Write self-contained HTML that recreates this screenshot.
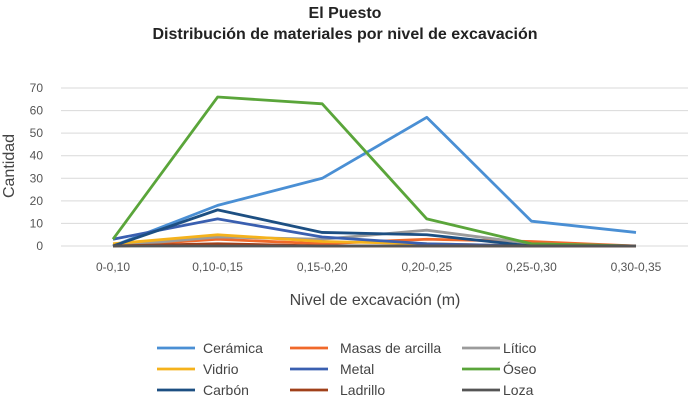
<!DOCTYPE html>
<html><head><meta charset="utf-8"><style>
body{margin:0;background:#fff;font-family:"Liberation Sans",sans-serif;}
svg text{font-family:"Liberation Sans",sans-serif;}
</style></head><body>
<svg id="chart" width="689" height="401" xmlns="http://www.w3.org/2000/svg">
<text x="345" y="18" text-anchor="middle" font-size="16" font-weight="bold" fill="#222">El Puesto</text>
<text x="345" y="39" text-anchor="middle" font-size="16" font-weight="bold" fill="#222">Distribución de materiales por nivel de excavación</text>
<text transform="translate(14,166) rotate(-90)" text-anchor="middle" font-size="16" fill="#444">Cantidad</text>
<text x="375" y="305" text-anchor="middle" font-size="16" fill="#444">Nivel de excavación (m)</text>
<g id="grid"></g><g id="series"></g><g id="legend"></g>
</svg>
<script>
const categories=["0-0,10","0,10-0,15","0,15-0,20","0,20-0,25","0,25-0,30","0,30-0,35"];
const yTicks=[0,10,20,30,40,50,60,70];
const names=["Cerámica","Masas de arcilla","Lítico","Vidrio","Metal","Óseo","Carbón","Ladrillo","Loza"];
const colors=["#4a8fd4","#f0692a","#9b9b9b","#f5b21c","#3a5fb0","#5aa53a","#1d4f82","#a0401a","#555555"];
const ceramica=[0,18,30,57,11,6];
const masas=[0,3,1,3,2,0];
const litico=[0,4,3,7,1,0];
const vidrio=[1,5,2,1,0,0];
const metal=[3,12,4,1,0,0];
const oseo=[3,66,63,12,1,0];
const carbon=[0,16,6,5,0,0];
const ladrillo=[0,1,0,0,0,0];
const loza=[0,0,0,0,0,0];
const seriesData=[ceramica,masas,litico,vidrio,metal,oseo,carbon,ladrillo,loza];
const NS="http://www.w3.org/2000/svg";
const x=i=>113+i*104.6;
const y=v=>246-v*(158/70);
const grid=document.getElementById('grid');
yTicks.forEach(t=>{
 const l=document.createElementNS(NS,'line');
 
 
 l.setAttribute('x1',61);l.setAttribute('x2',688);l.setAttribute('y1',y(t));l.setAttribute('y2',y(t));
 l.setAttribute('stroke','#d9d9d9');l.setAttribute('stroke-width',1);grid.appendChild(l);
 const tx=document.createElementNS(NS,'text');
 
 
 tx.setAttribute('x',43);tx.setAttribute('y',y(t)+4);tx.setAttribute('text-anchor','end');
 tx.setAttribute('font-size','12');tx.setAttribute('fill','#555');tx.textContent=t;grid.appendChild(tx);
});
categories.forEach((c,i)=>{
 const tx=document.createElementNS(NS,'text');
 
 
 tx.setAttribute('x',x(i));tx.setAttribute('y',271);tx.setAttribute('text-anchor','middle');
 tx.setAttribute('font-size','12');tx.setAttribute('fill','#555');tx.textContent=c;grid.appendChild(tx);
});
const sg=document.getElementById('series');
seriesData.forEach((d,k)=>{
 const p=document.createElementNS(NS,'polyline');
 
 
 p.setAttribute('points',d.map((v,i)=>x(i)+','+y(v)).join(' '));
 p.setAttribute('fill','none');p.setAttribute('stroke',colors[k]);p.setAttribute('stroke-width',2.8);
 p.setAttribute('stroke-linejoin','round');sg.appendChild(p);
});
const lg=document.getElementById('legend');
const colX=[157,290,462],txtX=[203,340,503],rowY=[348,369,390];
names.forEach((n,k)=>{
 const c=k%3,r=Math.floor(k/3);
 const g=document.createElementNS(NS,'g');
 
 
 const l=document.createElementNS(NS,'line');
 l.setAttribute('x1',colX[c]);l.setAttribute('x2',colX[c]+38);l.setAttribute('y1',rowY[r]);l.setAttribute('y2',rowY[r]);
 l.setAttribute('stroke',colors[k]);l.setAttribute('stroke-width',2.8);g.appendChild(l);
 const t=document.createElementNS(NS,'text');
 t.setAttribute('x',txtX[c]);t.setAttribute('y',rowY[r]+5);t.setAttribute('font-size','14');t.setAttribute('fill','#444');
 t.textContent=n;g.appendChild(t);lg.appendChild(g);
});
</script>
</body></html>
